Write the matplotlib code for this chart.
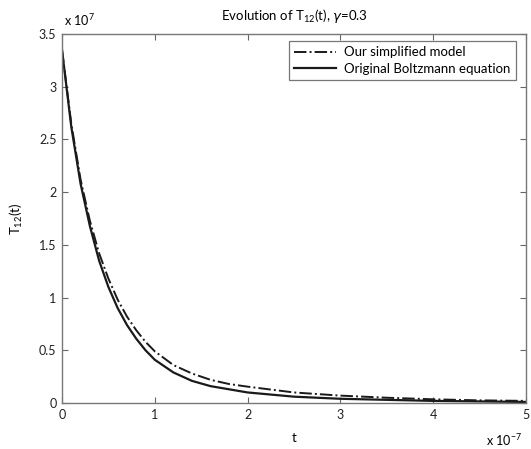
import matplotlib
matplotlib.use("Agg")
import matplotlib.pyplot as plt
from matplotlib.ticker import FormatStrFormatter

plt.rcParams['font.family'] = ['Lato', 'DejaVu Sans']
plt.rcParams['mathtext.fontset'] = 'custom'
plt.rcParams['mathtext.rm'] = 'Lato'

# t in units of 1e-7, T12 in units of 1e7
t = [0, 0.1, 0.2, 0.3, 0.4, 0.5, 0.6, 0.7, 0.8, 0.9, 1.0, 1.2, 1.4, 1.6,
     1.8, 2.0, 2.5, 3.0, 3.5, 4.0, 4.5, 5.0]
boltzmann = [3.35, 2.62, 2.08, 1.68, 1.35, 1.10, 0.90, 0.74, 0.61, 0.50, 0.41,
             0.29, 0.21, 0.16, 0.13, 0.10, 0.06, 0.04, 0.03, 0.02, 0.015, 0.01]
simplified = [3.35, 2.65, 2.12, 1.73, 1.42, 1.18, 0.98, 0.82, 0.69, 0.58, 0.49,
              0.36, 0.28, 0.22, 0.18, 0.155, 0.10, 0.07, 0.05, 0.035, 0.025, 0.02]
xticks = [0, 1, 2, 3, 4, 5]
yticks = [0, 0.5, 1, 1.5, 2, 2.5, 3, 3.5]

fig = plt.figure(figsize=(5.31, 4.49), dpi=100)
ax = fig.add_axes([62/531, 46/449, 464/531, 369/449])

ax.plot(t, simplified, '-.', color='#1a1a1a', lw=1.4, label='Our simplified model')
ax.plot(t, boltzmann, '-', color='#1a1a1a', lw=1.6, label='Original Boltzmann equation')

ax.set_xlim(0, 5)
ax.set_ylim(0, 3.5)
ax.set_xticks(xticks)
ax.set_yticks(yticks)
ax.yaxis.set_major_formatter(FormatStrFormatter('%g'))
ax.tick_params(direction='in', length=4, width=0.8, top=True, right=True,
               labelsize=9, colors='#222222', pad=4)
ax.tick_params(color='#666666')
for s in ax.spines.values():
    s.set_color('#777777')
    s.set_linewidth(1.0)

ax.set_xlabel('t', fontsize=9.5, labelpad=8)
ax.set_ylabel('T$_{12}$(t)', fontsize=9.5, labelpad=10)
ax.set_title('Evolution of T$_{12}$(t), $\\gamma$=0.3', fontsize=9.5, pad=10,
             fontfamily=['Lato', 'DejaVu Sans'])

fig.text(64/531, 1 - 20/449, 'x 10$^{7}$', fontsize=9, ha='left', va='center')
fig.text(486/531, 1 - 440/449, 'x 10$^{-7}$', fontsize=9, ha='left', va='center')

leg = ax.legend(loc='upper right', bbox_to_anchor=(516/531, 1 - 41/449),
                bbox_transform=fig.transFigure, fontsize=9.5, frameon=True,
                fancybox=False, handlelength=3.2, borderpad=0.4,
                labelspacing=0.35, handletextpad=0.6, borderaxespad=0)
leg.get_frame().set_edgecolor('#555555')
leg.get_frame().set_linewidth(0.9)

fig.savefig('out.png', dpi=100)
